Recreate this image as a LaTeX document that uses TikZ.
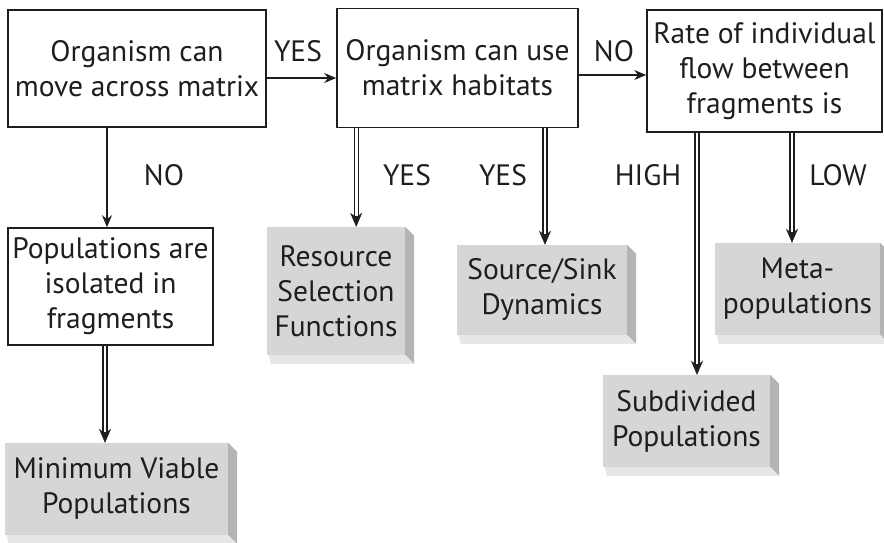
\documentclass[tikz,border=0pt]{standalone}
\usepackage{fontspec}
\setmainfont{PT Sans}
\usetikzlibrary{arrows.meta,calc}

\definecolor{ink}{HTML}{1E1E1E}
\definecolor{boxgray}{HTML}{D6D6D6}
\definecolor{sidegray}{HTML}{B4B4B4}
\definecolor{floorgray}{HTML}{E6E6E6}

\tikzset{
  question/.style = {draw=ink, line width=1.6pt, align=center, inner sep=0pt},
  outcome/.style = {fill=boxgray, align=center, inner sep=0pt},
  answer/.style = {inner sep=0pt},
  single/.style = {draw=ink, line width=1.4pt, -{Stealth[length=12pt,width=10pt]}},
  twin/.style = {draw=white, line width=2.6pt, shorten >=11pt,
    preaction={draw=ink, line width=5.4pt, shorten >=0pt, -{Stealth[length=14pt,width=12pt,line width=0.4pt]}}}
}

\begin{document}
\begin{tikzpicture}[x=1pt, y=-1pt, font=\fontsize{29.5}{35}\selectfont, ink]

        \useasboundingbox (0,0) rectangle (884,543);

        % questions
        \node [question, minimum width=258pt, minimum height=117pt] (move) at (137,68.5) {Organism can\\move across matrix};
        \node [question, minimum width=241pt, minimum height=119pt] (use) at (457.5,68) {Organism can use\\matrix habitats};
        \node [question, minimum width=235pt, minimum height=122pt] (rate) at (764.5,71) {Rate of individual\\flow between\\fragments is};
        \node [question, minimum width=205pt, minimum height=117pt] (isol) at (110.5,286.5) {Populations are\\isolated in\\fragments};

        % outcomes
        \node [outcome, minimum width=223pt, minimum height=92pt] (mvp) at (116.5,489) {Minimum Viable\\Populations};
        \node [outcome, minimum width=138pt, minimum height=128pt] (rsf) at (336,291) {Resource\\Selection\\Functions};
        \node [outcome, minimum width=170pt, minimum height=90pt] (sink) at (542,290) {Source/Sink\\Dynamics};
        \node [outcome, minimum width=167pt, minimum height=92pt] (subdiv) at (686.5,421) {Subdivided\\Populations};
        \node [outcome, minimum width=165pt, minimum height=92pt] (meta) at (797.5,289) {Meta-\\populations};

        \foreach \n in {mvp, rsf, sink, subdiv, meta} {
          \fill [sidegray] (\n.north east) -- ++(9,9) -- ($(\n.south east)+(9,9)$) -- (\n.south east) -- cycle;
          \fill [floorgray] ($(\n.south west)+(2,0)$) -- (\n.south east) -- ++(9,9) -- ($(\n.south west)+(4,9)$) -- cycle;
        }

        % connectors
        \draw [single] ([yshift=-9.5pt]move.east) -- ([yshift=-9.5pt]move.east -| use.west);
        \draw [single] ([yshift=-7pt]use.east) -- ([yshift=-7pt]use.east -| rate.west);
        \draw [single] ([xshift=-3.5pt]isol.north |- move.south) -- ([xshift=-3.5pt]isol.north);
        \draw [twin] ([xshift=-5.5pt]isol.south) -- ([xshift=-5.5pt]isol.south |- mvp.north);
        \draw [twin] ([xshift=20pt]use.south west) -- ([xshift=20pt]use.south west |- rsf.north);
        \draw [twin] ([xshift=3pt]sink.north |- use.south) -- ([xshift=3pt]sink.north);
        \draw [twin] ([xshift=10.5pt]subdiv.north |- rate.south) -- ([xshift=10.5pt]subdiv.north);
        \draw [twin] ([xshift=-5.5pt]meta.north |- rate.south) -- ([xshift=-5.5pt]meta.north);

        % answers
        \node [answer] (yesmove) at (298,51) {YES};
        \node [answer] (nouse) at (614,51) {NO};
        \node [answer] (nomove) at (164,175) {NO};
        \node [answer] (yesrsf) at (407,175) {YES};
        \node [answer] (yessink) at (503,175) {YES};
        \node [answer] (high) at (648,175) {HIGH};
        \node [answer] (low) at (838,175) {LOW};

\end{tikzpicture}
\end{document}
